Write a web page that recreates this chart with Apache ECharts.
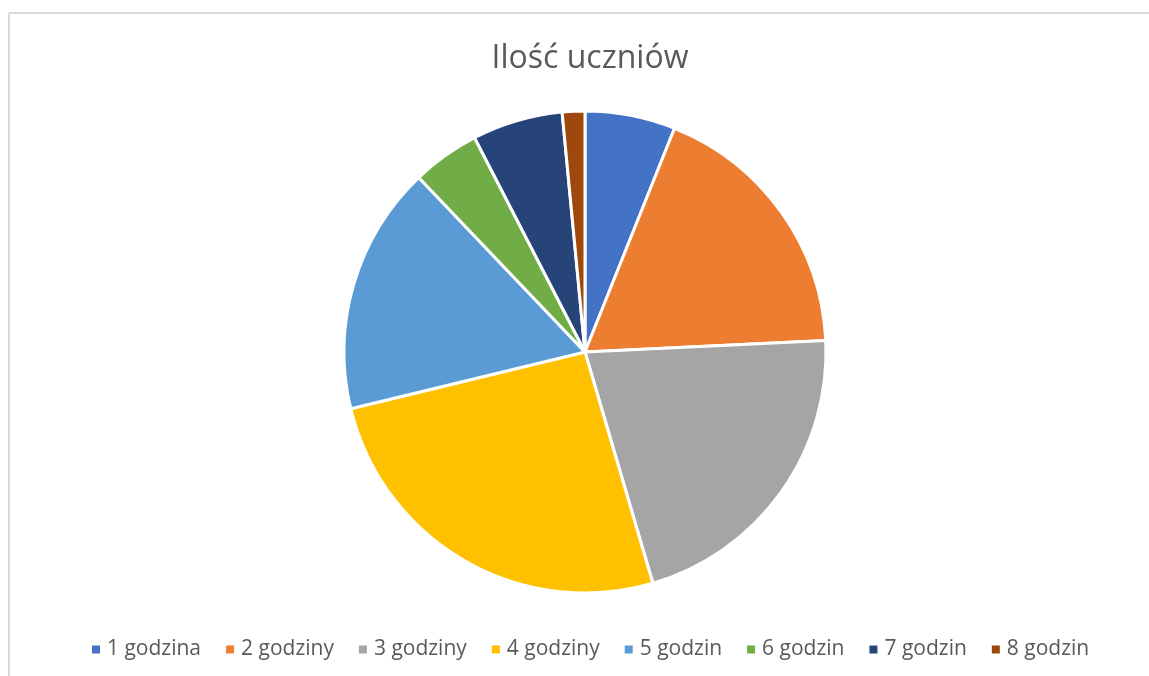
<!DOCTYPE html>
<html>
<head>
<meta charset="utf-8">
<script src="https://cdn.jsdelivr.net/npm/echarts@6/dist/echarts.min.js"></script>
<style>
html,body{margin:0;padding:0;background:#fff;}
#chart{width:1149px;height:676px;}
</style>
</head>
<body>
<div id="chart"></div>
<script>
const titleText = 'Ilość uczniów';
const categories = ['1 godzina','2 godziny','3 godziny','4 godziny','5 godzin','6 godzin','7 godzin','8 godzin'];
const values = [4, 12, 14, 17, 11, 3, 4, 1];
const colors = ['#4472C4','#ED7D31','#A5A5A5','#FFC000','#5B9BD5','#70AD47','#264478','#9E480E'];

const chart = echarts.init(document.getElementById('chart'));
chart.setOption({
  animation: false,
  color: colors,
  title: {
    text: titleText,
    left: 585,
    textAlign: 'center',
    top: 38,
    textStyle: {fontFamily: 'Open Sans', fontSize: 32, fontWeight: 'normal', color: '#595959'}
  },
  legend: {
    top: 634,
    left: 85,
    icon: 'rect',
    itemWidth: 10,
    itemHeight: 10,
    itemGap: 23,
    textStyle: {fontFamily: 'Open Sans', fontSize: 21, color: '#595959', padding: [0,0,0,1]},
    data: categories
  },
  graphic: [
    {type: 'line', shape: {x1: 9, y1: 13, x2: 1149, y2: 13}, style: {stroke: '#D9D9D9', lineWidth: 2}},
    {type: 'line', shape: {x1: 9, y1: 13, x2: 9, y2: 676}, style: {stroke: '#D9D9D9', lineWidth: 2}}
  ],
  series: [{
    type: 'pie',
    center: [585, 352],
    radius: [0, 241],
    startAngle: 90,
    clockwise: true,
    label: {show: false},
    labelLine: {show: false},
    itemStyle: {borderColor: '#fff', borderWidth: 3},
    emphasis: {disabled: true},
    data: categories.map((c, i) => ({name: c, value: values[i]}))
  }]
});
</script>
</body>
</html>
